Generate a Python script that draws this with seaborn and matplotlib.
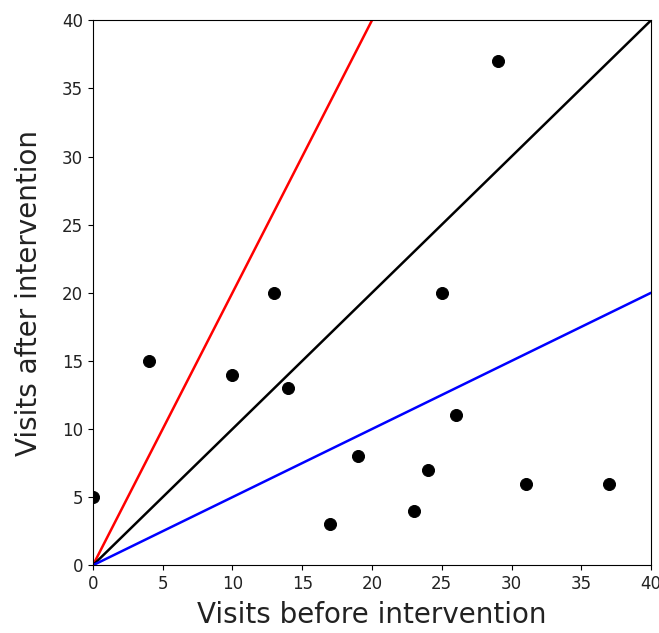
import matplotlib
matplotlib.use("Agg")
import matplotlib.pyplot as plt
import seaborn as sns
import numpy as np
import pandas as pd

visits_before = [0, 4, 10, 13, 14, 17, 19, 23, 24, 25, 26, 29, 31, 37]
visits_after = [5, 15, 14, 20, 13, 3, 8, 4, 7, 20, 11, 37, 6, 6]
line_x = [0, 40]
slopes = [2.0, 1.0, 0.5]
line_colors = ["red", "black", "blue"]

sns.set_style("ticks")
plt.rcParams['font.family'] = ['DejaVu Sans']

fig = plt.figure(figsize=(6.59, 6.33), dpi=100)
ax = fig.add_axes([0.141, 0.107, 0.847, 0.861])

df = pd.DataFrame({"before": visits_before, "after": visits_after})
for s, c in zip(slopes, line_colors):
    sns.lineplot(x=line_x, y=[s * v for v in line_x], color=c, ax=ax, linewidth=1.8)
sns.scatterplot(data=df, x="before", y="after", color="black", s=75, ax=ax, zorder=3, edgecolor="black")

ax.set_xlim(0, 40)
ax.set_ylim(0, 40)
ax.set_xticks(range(0, 41, 5))
ax.set_yticks(range(0, 41, 5))
ax.tick_params(labelsize=12, colors="black", labelcolor="#222222")
ax.set_xlabel("Visits before intervention", fontsize=20, color="#222222", labelpad=6)
ax.set_ylabel("Visits after intervention", fontsize=20, color="#222222", labelpad=14)
for sp in ax.spines.values():
    sp.set_visible(True)
    sp.set_color("black")

fig.savefig("out.png", dpi=100)
